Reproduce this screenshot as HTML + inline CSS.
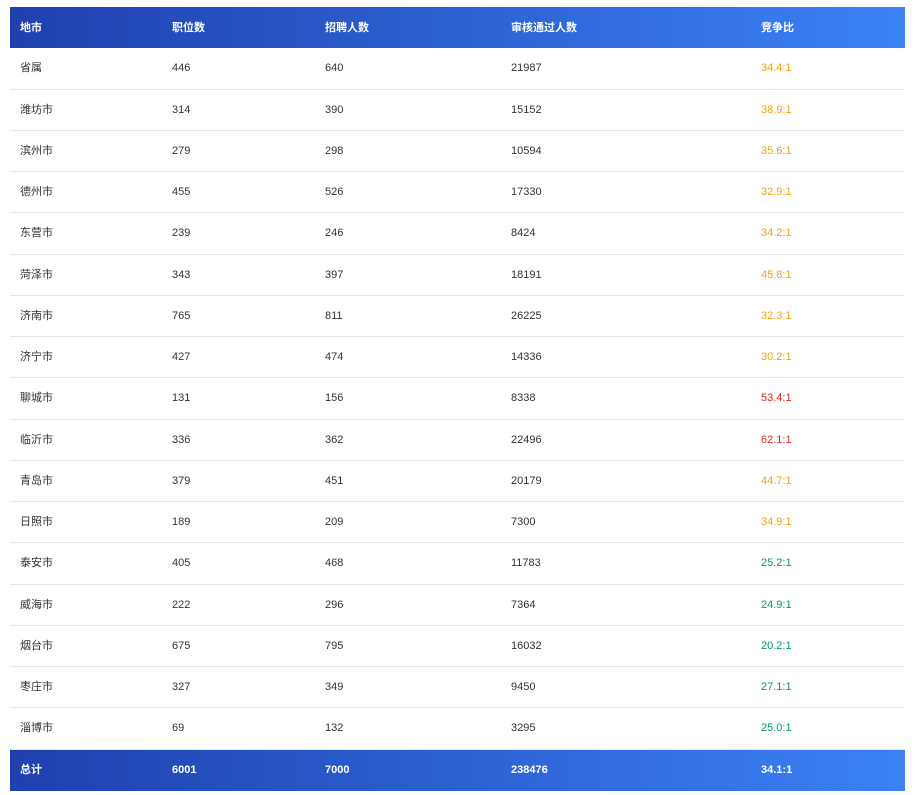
<!DOCTYPE html>
<html><head><meta charset="utf-8"><style>
body{margin:0;width:915px;height:795px;background:#fff;font-family:"Liberation Sans","Noto Sans CJK SC",sans-serif;font-size:11px;color:#333;}
.t{position:absolute;left:10px;top:7px;width:895px;}
.r{display:flex;height:41.25px;align-items:center;box-sizing:border-box;border-bottom:1px solid #e6e6e6;}
.r>div{line-height:14px;height:14px;overflow:visible}
.h{background:linear-gradient(90deg,#1f40ae,#3b82f6);color:#fff;font-weight:bold;border:none;}
.c1{width:162px;padding-left:10px;box-sizing:border-box}
.c2{width:153px}.c3{width:186px}.c4{width:250px}.c5{flex:1}
.o{color:#f59e0b}.red{color:#dc2626}.g{color:#059669}
</style></head><body><div class="t">
<div class="r h"><div class="c1">地市</div><div class="c2">职位数</div><div class="c3">招聘人数</div><div class="c4">审核通过人数</div><div class="c5">竞争比</div></div>
<div class="r"><div class="c1">省属</div><div class="c2">446</div><div class="c3">640</div><div class="c4">21987</div><div class="c5 o">34.4:1</div></div>
<div class="r"><div class="c1">潍坊市</div><div class="c2">314</div><div class="c3">390</div><div class="c4">15152</div><div class="c5 o">38.9:1</div></div>
<div class="r"><div class="c1">滨州市</div><div class="c2">279</div><div class="c3">298</div><div class="c4">10594</div><div class="c5 o">35.6:1</div></div>
<div class="r"><div class="c1">德州市</div><div class="c2">455</div><div class="c3">526</div><div class="c4">17330</div><div class="c5 o">32.9:1</div></div>
<div class="r"><div class="c1">东营市</div><div class="c2">239</div><div class="c3">246</div><div class="c4">8424</div><div class="c5 o">34.2:1</div></div>
<div class="r"><div class="c1">菏泽市</div><div class="c2">343</div><div class="c3">397</div><div class="c4">18191</div><div class="c5 o">45.8:1</div></div>
<div class="r"><div class="c1">济南市</div><div class="c2">765</div><div class="c3">811</div><div class="c4">26225</div><div class="c5 o">32.3:1</div></div>
<div class="r"><div class="c1">济宁市</div><div class="c2">427</div><div class="c3">474</div><div class="c4">14336</div><div class="c5 o">30.2:1</div></div>
<div class="r"><div class="c1">聊城市</div><div class="c2">131</div><div class="c3">156</div><div class="c4">8338</div><div class="c5 red">53.4:1</div></div>
<div class="r"><div class="c1">临沂市</div><div class="c2">336</div><div class="c3">362</div><div class="c4">22496</div><div class="c5 red">62.1:1</div></div>
<div class="r"><div class="c1">青岛市</div><div class="c2">379</div><div class="c3">451</div><div class="c4">20179</div><div class="c5 o">44.7:1</div></div>
<div class="r"><div class="c1">日照市</div><div class="c2">189</div><div class="c3">209</div><div class="c4">7300</div><div class="c5 o">34.9:1</div></div>
<div class="r"><div class="c1">泰安市</div><div class="c2">405</div><div class="c3">468</div><div class="c4">11783</div><div class="c5 g">25.2:1</div></div>
<div class="r"><div class="c1">威海市</div><div class="c2">222</div><div class="c3">296</div><div class="c4">7364</div><div class="c5 g">24.9:1</div></div>
<div class="r"><div class="c1">烟台市</div><div class="c2">675</div><div class="c3">795</div><div class="c4">16032</div><div class="c5 g">20.2:1</div></div>
<div class="r"><div class="c1">枣庄市</div><div class="c2">327</div><div class="c3">349</div><div class="c4">9450</div><div class="c5 g">27.1:1</div></div>
<div class="r"><div class="c1">淄博市</div><div class="c2">69</div><div class="c3">132</div><div class="c4">3295</div><div class="c5 g">25.0:1</div></div>
<div class="r h"><div class="c1">总计</div><div class="c2">6001</div><div class="c3">7000</div><div class="c4">238476</div><div class="c5">34.1:1</div></div>
</div></body></html>
